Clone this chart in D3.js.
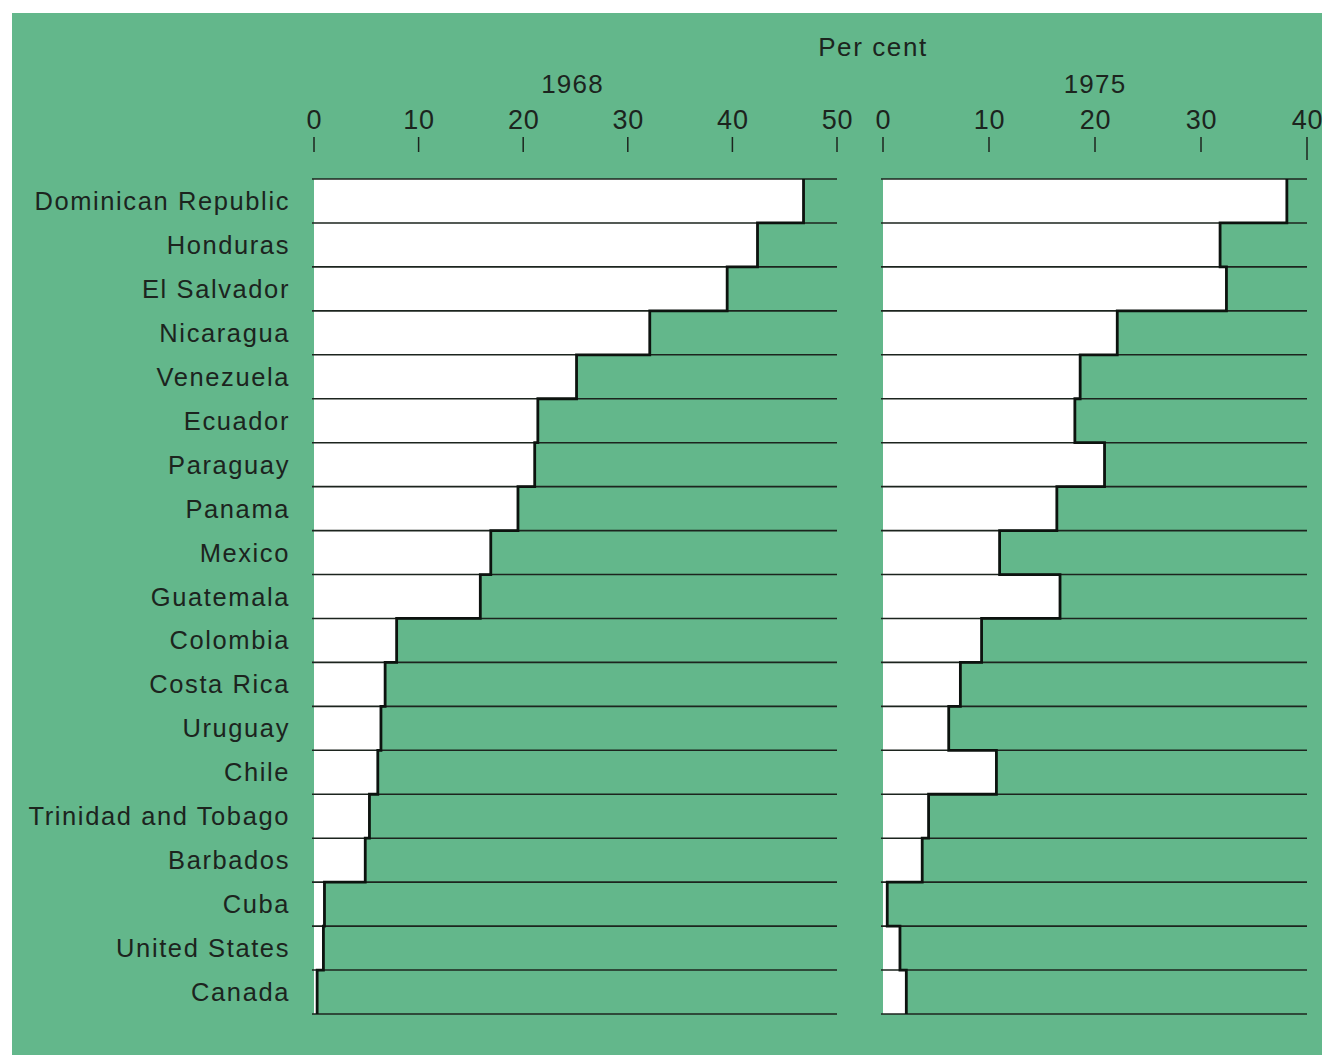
<!DOCTYPE html>
<html><head><meta charset="utf-8">
<script src="https://cdn.jsdelivr.net/npm/d3@7"></script>
<style>html,body{margin:0;padding:0;background:#fff;}svg{display:block;}</style>
</head><body>
<svg id="c" width="1322" height="1055"></svg>
<script>
const countries = ["Dominican Republic","Honduras","El Salvador","Nicaragua","Venezuela","Ecuador","Paraguay","Panama","Mexico","Guatemala","Colombia","Costa Rica","Uruguay","Chile","Trinidad and Tobago","Barbados","Cuba","United States","Canada"];
const values1968 = [46.8,42.4,39.5,32.1,25.1,21.4,21.1,19.5,16.9,15.9,7.9,6.8,6.4,6.1,5.3,4.9,1.0,0.9,0.3];
const values1975 = [38.1,31.8,32.4,22.1,18.6,18.1,20.9,16.4,11.0,16.7,9.3,7.3,6.2,10.7,4.3,3.7,0.4,1.6,2.2];
const ticks1968 = [0,10,20,30,40,50];
const ticks1975 = [0,10,20,30,40];
const panels = [
  {year:"1968", values:values1968, ticks:ticks1968, domain:[0,50], range:[314,837]},
  {year:"1975", values:values1975, ticks:ticks1975, domain:[0,40], range:[883,1307]}
];

const svg = d3.select("#c");
const green = "#63b78b";
const ink = "#1c241e";
const font = "'Liberation Sans', Arial, sans-serif";

svg.append("rect").attr("x",12).attr("y",13).attr("width",1310).attr("height",1042).attr("fill",green);

const y = d3.scaleBand().domain(countries).range([179,1014]).padding(0);

// labels
svg.append("g").selectAll("text").data(countries).join("text")
  .attr("x",290).attr("y",d=>y(d)+y.bandwidth()/2)
  .attr("text-anchor","end").attr("dominant-baseline","central")
  .attr("font-family",font).attr("font-size",25.5).attr("letter-spacing",1.6)
  .attr("fill",ink).text(d=>d);

svg.append("text").attr("x",873).attr("y",56).attr("text-anchor","middle")
  .attr("font-family",font).attr("font-size",26).attr("letter-spacing",1.6).attr("fill",ink).text("Per cent");

panels.forEach(p=>{
  const x = d3.scaleLinear().domain(p.domain).range(p.range);
  const g = svg.append("g");
  g.append("text").attr("x",(p.range[0]+p.range[1])/2 - (p.year==="1968"?3:0)).attr("y",93)
    .attr("text-anchor","middle").attr("font-family",font).attr("font-size",26).attr("letter-spacing",1.2)
    .attr("fill",ink).text(p.year);
  const ax = d3.axisTop(x).tickValues(p.ticks).tickSize(0).tickPadding(0).tickFormat(d3.format("d"));
  const axg = g.append("g").attr("transform","translate(0,129)").call(ax);
  axg.select(".domain").remove();
  axg.selectAll("text").attr("font-family",font).attr("font-size",27).attr("letter-spacing",0.8).attr("fill",ink).attr("dy",0);
  g.append("g").selectAll("line").data(p.ticks).join("line")
    .attr("x1",d=>x(d)).attr("x2",d=>x(d)).attr("y1",137).attr("y2",d=>d===p.domain[1]&&p.year==="1975"?160:152)
    .attr("stroke",ink).attr("stroke-width",1.5);
  g.append("g").selectAll("rect").data(countries).join("rect")
    .attr("x",x(0)).attr("y",d=>y(d)).attr("width",(d,i)=>x(p.values[i])-x(0)).attr("height",y.bandwidth())
    .attr("fill","#fff");
  const bounds = countries.map(d=>y(d)).concat([y.range()[1]]);
  g.append("g").selectAll("line").data(bounds).join("line")
    .attr("x1",x(0)-2).attr("x2",x(p.domain[1])).attr("y1",d=>d).attr("y2",d=>d)
    .attr("stroke",ink).attr("stroke-width",1.6);
  let path = d3.path();
  p.values.forEach((v,i)=>{
    const top = y(countries[i]), bot = top + y.bandwidth();
    if(i===0) path.moveTo(x(v), top); else path.lineTo(x(v), top);
    path.lineTo(x(v), bot);
  });
  g.append("path").attr("d",path.toString()).attr("fill","none").attr("stroke","#0d130f")
    .attr("stroke-width",2.8).attr("stroke-linejoin","miter");
});
</script>
</body></html>
